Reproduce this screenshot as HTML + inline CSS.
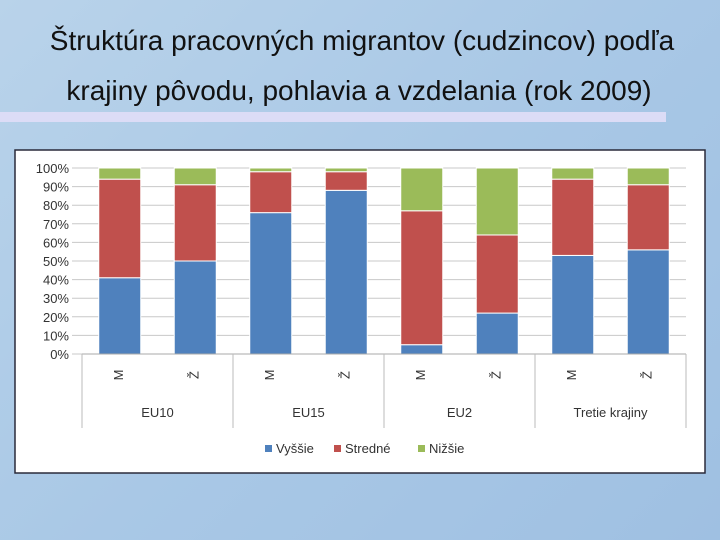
<!DOCTYPE html>
<html><head><meta charset="utf-8"><style>
body{margin:0;width:720px;height:540px;overflow:hidden;background:linear-gradient(135deg,#b9d3ea,#a9c8e6 50%,#9fc0e2);font-family:"Liberation Sans",sans-serif;position:relative}
.t{position:absolute;left:0;width:720px;text-align:center;font-size:28px;color:#111;white-space:nowrap}
</style></head><body>
<div class="t" style="top:25px;left:2px">Štruktúra pracovných migrantov (cudzincov) podľa</div>
<div class="t" style="top:75px;left:-1px">krajiny pôvodu, pohlavia a vzdelania (rok 2009)</div>
<div style="position:absolute;left:0;top:112px;width:666px;height:10px;background:#dcdcf6"></div>
<svg id="c" width="720" height="540" style="position:absolute;left:0;top:0"></svg>
<script>
const groups=["EU10","EU15","EU2","Tretie krajiny"];
const sexes=["M","Ž","M","Ž","M","Ž","M","Ž"];
const vyssie=[41,50,76,88,5,22,53,56];
const stredne=[53,41,22,10,72,42,41,35];
const nizsie=[6,9,2,2,23,36,6,9];
const ticks=[0,10,20,30,40,50,60,70,80,90,100];
const series=[["Vyššie",vyssie,"#4f81bd"],["Stredné",stredne,"#c0504d"],["Nižšie",nizsie,"#9bbb59"]];
const NS="http://www.w3.org/2000/svg",svg=document.getElementById('c');
function el(t,a,txt){const e=document.createElementNS(NS,t);for(const k in a)e.setAttribute(k,a[k]);if(txt!=null)e.textContent=txt;svg.appendChild(e);return e;}
const x0=82,x1=686,y0=354,y1=168;
const y=v=>y0-(y0-y1)*v/100;
const band=(x1-x0)/sexes.length;
let f=el('rect',{x:15,y:150,width:690,height:323,fill:'#fff',stroke:'#2a2a3a','stroke-width':1.5});

ticks.forEach(t=>{
 let g=el('line',{x1:x0-10,x2:x1,y1:y(t),y2:y(t),stroke:'#c8c8c8'});
 
 let l=el('text',{x:69,y:y(t)+5,'text-anchor':'end','font-size':13,fill:'#333'},t+'%');
 
});
sexes.forEach((s,i)=>{
 let base=0;const bx=x0+band*i+(band-42)/2;
 series.forEach(([n,arr,c])=>{
  const v=arr[i];
  let r=el('rect',{x:bx,y:y(base+v),width:42,height:y(base)-y(base+v),fill:c,stroke:'#fff','stroke-width':1});
  
  base+=v;
 });
 let tx=bx+21,ty=375;
 let l=el('text',{x:tx,y:ty,'text-anchor':'middle','font-size':13,fill:'#333',transform:`rotate(-90 ${tx} ${ty})`,'dominant-baseline':'middle'},s);
 
});
let ax=el('line',{x1:x0,x2:x1,y1:y0,y2:y0,stroke:'#aaa'});

for(let g=0;g<=groups.length;g++){
 const xx=x0+band*2*g;
 let l=el('line',{x1:xx,x2:xx,y1:y0,y2:428,stroke:'#bbb'});
 
 if(g<groups.length){
  let tt=el('text',{x:xx+band,y:417,'text-anchor':'middle','font-size':13,fill:'#333'},groups[g]);
  
 }
}
let lx=[265,334,418];
series.forEach(([n,a,c],i)=>{
 let r=el('rect',{x:lx[i],y:445,width:7,height:7,fill:c});
 
 let t=el('text',{x:lx[i]+11,y:453,'font-size':13,fill:'#333'},n);
 
});
</script>
</body></html>
